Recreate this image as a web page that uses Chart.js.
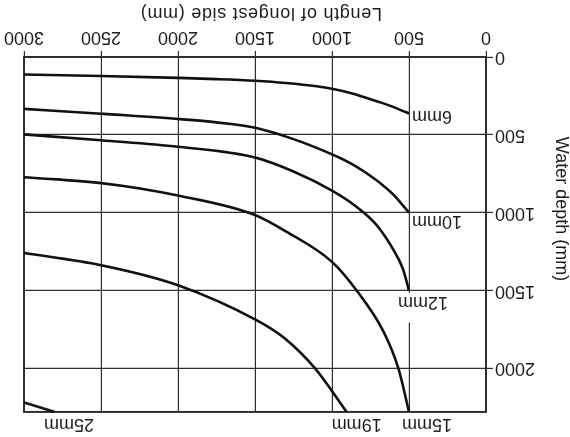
<!DOCTYPE html>
<html>
<head>
<meta charset="utf-8">
<script src="https://cdn.jsdelivr.net/npm/chart.js@4/dist/chart.umd.min.js"></script>
<style>
  html, body { margin: 0; padding: 0; background: #fff; }
  /* the whole figure is shown turned half a turn */
  #wrap { width: 570px; height: 437px; transform: rotate(180deg); transform-origin: 50% 50%; }
  canvas { display: block; }
</style>
</head>
<body>
<div id="wrap"><canvas id="c" width="570" height="437"></canvas></div>
<script>
// Axis ticks (mm)
const lengthTicks = [0, 500, 1000, 1500, 2000, 2500, 3000];
const depthTicks = [0, 500, 1000, 1500, 2000];
const lengthMax = 3000;
const depthMax = 2280;

// Glass thickness curves: longest side (mm) vs. water depth (mm)
const glass6Len   = [500, 600, 700, 850, 1000, 1100, 1300, 1500, 1750, 2000, 2500, 3000];
const glass6Depth = [363, 322, 287, 240, 204, 188, 167, 153, 142, 134, 122, 112];

const glass10Len   = [500, 600, 700, 850, 1000, 1200, 1350, 1500, 1750, 2000, 2500, 3000];
const glass10Depth = [1000, 885, 800, 700, 625, 545, 495, 455, 420, 398, 364, 333];

const glass12Len   = [500, 540, 600, 710, 850, 1000, 1250, 1500, 2000, 2500, 3000];
const glass12Depth = [1500, 1360, 1240, 1080, 955, 858, 735, 645, 576, 535, 497];

const glass15Len   = [500, 569, 669, 840, 1000, 1300, 1500, 2000, 2500, 3000];
const glass15Depth = [2280, 2000, 1757, 1500, 1316, 1120, 1015, 890, 810, 772];

const glass19Len   = [905, 1110, 1316, 1500, 2000, 2500, 3000];
const glass19Depth = [2280, 2000, 1800, 1685, 1466, 1337, 1258];

const glass25Len   = [2800, 3000];
const glass25Depth = [2280, 2219];

// Curve labels and where they sit (mm, mm)
const curveNames  = ['6mm', '10mm', '12mm', '15mm', '19mm', '25mm'];
const labelLen    = [350, 318, 409, 383, 840, 2708];
const labelDepth  = [377, 1055, 1573, 2358, 2358, 2358];

const xTitle = 'Length of longest side (mm)';
const yTitle = 'Water depth (mm)';

const INK = '#1c1c1c';
const GRID = '#2e2e2e';
const FONT = "'Liberation Sans', Arial, Helvetica, sans-serif";

function toPoints(xs, ys) { return xs.map((v, i) => ({ x: v, y: ys[i] })); }

const series = [
  [glass6Len, glass6Depth],
  [glass10Len, glass10Depth],
  [glass12Len, glass12Depth],
  [glass15Len, glass15Depth],
  [glass19Len, glass19Depth],
  [glass25Len, glass25Depth]
];

const datasets = series.map((s, i) => ({
  label: curveNames[i],
  data: toPoints(s[0], s[1]),
  showLine: true,
  borderColor: '#111',
  borderWidth: 2.6,
  pointRadius: 0,
  cubicInterpolationMode: 'monotone',
  fill: false,
  clip: false
}));

const annotate = {
  id: 'annotate',
  beforeDatasetsDraw(chart) {
    const { ctx, chartArea: ca, scales: { x, y } } = chart;
    ctx.save();
    // break in the 500 mm grid line below the 12mm label
    const gx = x.getPixelForValue(500);
    const yTop = y.getPixelForValue(1705);
    const yBot = y.getPixelForValue(1515);
    ctx.fillStyle = '#fff';
    ctx.fillRect(gx - 3, yTop, 6, yBot - yTop);
    // frame of the plotting area
    ctx.strokeStyle = GRID;
    ctx.lineWidth = 2;
    ctx.strokeRect(ca.left, ca.top, ca.right - ca.left, ca.bottom - ca.top);
    ctx.restore();
  },
  afterDraw(chart) {
    const { ctx, chartArea: ca, scales: { x, y } } = chart;
    ctx.save();
    ctx.fillStyle = INK;
    ctx.font = '18px ' + FONT;
    ctx.textAlign = 'center';
    ctx.textBaseline = 'middle';
    curveNames.forEach((name, i) => {
      ctx.fillText(name, x.getPixelForValue(labelLen[i]), y.getPixelForValue(labelDepth[i]));
    });
    // axis titles
    ctx.letterSpacing = '0.7px';
    ctx.fillText(xTitle, (ca.left + ca.right) / 2 - 6, 424);
    ctx.letterSpacing = '0px';
    ctx.translate(9, 228);
    ctx.rotate(-Math.PI / 2);
    ctx.fillText(yTitle, 0, 0);
    ctx.restore();
  }
};

const plainTick = v => String(v);

new Chart(document.getElementById('c'), {
  type: 'scatter',
  data: { datasets },
  options: {
    responsive: false,
    animation: false,
    devicePixelRatio: 1,
    layout: { padding: { left: 0, right: 24, top: 25, bottom: 0 } },
    plugins: { legend: { display: false }, tooltip: { enabled: false } },
    scales: {
      x: {
        type: 'linear',
        min: 0,
        max: lengthMax,
        afterBuildTicks(scale) { scale.ticks = lengthTicks.map(v => ({ value: v })); },
        afterFit(scale) { scale.height = 57; },
        grid: { color: GRID, lineWidth: 1.2, tickLength: 6, drawTicks: true },
        border: { color: GRID, width: 2 },
        ticks: {
          color: INK,
          font: { family: FONT, size: 18 },
          padding: 3,
          maxRotation: 0,
          autoSkip: false,
          callback: plainTick
        }
      },
      y: {
        type: 'linear',
        min: 0,
        max: depthMax,
        afterBuildTicks(scale) { scale.ticks = depthTicks.map(v => ({ value: v })); },
        afterFit(scale) { scale.width = 84; },
        grid: { color: GRID, lineWidth: 1.2, tickLength: 7, drawTicks: true },
        border: { color: GRID, width: 2 },
        ticks: {
          color: INK,
          font: { family: FONT, size: 18 },
          padding: 2,
          autoSkip: false,
          callback: plainTick
        }
      }
    }
  },
  plugins: [annotate]
});
</script>
</body>
</html>
